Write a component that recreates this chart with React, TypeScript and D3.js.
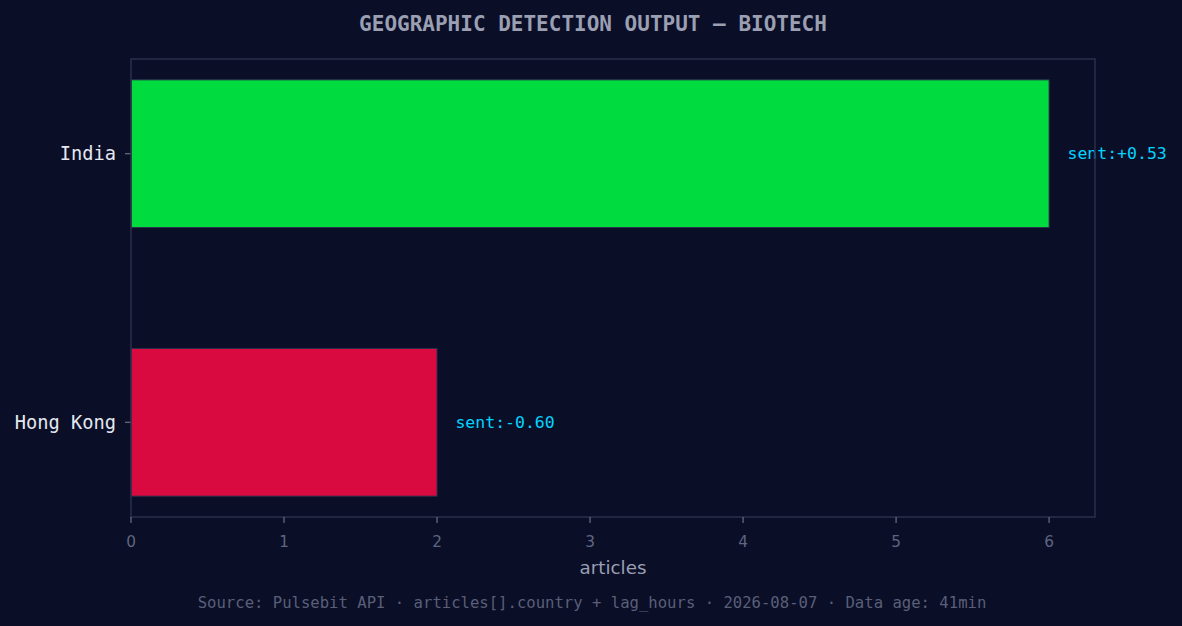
import React from "react";
import * as d3 from "d3";

const countries = ["Hong Kong", "India"];
const articles = [2, 6];
const sentiments = [-0.6, 0.53];
const barColors = ["#d80a3f", "#00dc40"];
const xTicks = [0, 1, 2, 3, 4, 5, 6];
const titleText = "GEOGRAPHIC DETECTION OUTPUT — BIOTECH";
const xLabel = "articles";
const footerText =
  "Source: Pulsebit API · articles[].country + lag_hours · 2026-08-07 · Data age: 41min";

const W = 1182;
const H = 626;
const M = { left: 131, right: 1095, top: 59, bottom: 517 };
const BG = "#0a0e27";
const SPINE = "#2a2f4c";
const MONO = "'DejaVu Sans Mono', monospace";
const SANS = "'DejaVu Sans', sans-serif";

export default function App() {
  const x = d3.scaleLinear().domain([0, 6.3]).range([M.left, M.right]);
  const barH = 0.55;
  const lo = -barH / 2;
  const hi = 1 + barH / 2;
  const pad = (hi - lo) * 0.05;
  const y = d3.scaleLinear().domain([lo - pad, hi + pad]).range([M.bottom, M.top]);
  const fmt = (v: number) => (v >= 0 ? "+" : "-") + Math.abs(v).toFixed(2);

  return (
    <svg
      width={W}
      height={H}
      style={{ position: "absolute", left: 0, top: 0, background: BG }}
    >
      <rect x={0} y={0} width={W} height={H} fill={BG} />
      <text
        x={593}
        y={31}
        textAnchor="middle"
        fill="#9a9fb2"
        fontFamily={MONO}
        fontWeight="bold"
        fontSize={21}
      >
        {titleText}
      </text>

      {countries.map((c, i) => {
        const y0 = y(i + barH / 2);
        const y1 = y(i - barH / 2);
        return (
          <g key={c}>
            <rect
              x={x(0)}
              y={y0}
              width={x(articles[i]) - x(0)}
              height={y1 - y0}
              fill={barColors[i]}
              stroke={SPINE}
              strokeWidth={1}
            />
            <text
              x={x(articles[i] + 0.12)}
              y={y(i)}
              dominantBaseline="central"
              fill="#00d4ff"
              fontFamily={MONO}
              fontSize={16.5}
            >
              {"sent:" + fmt(sentiments[i])}
            </text>
            <line x1={M.left - 6} x2={M.left} y1={y(i)} y2={y(i)} stroke="#6b7089" strokeWidth={1.2} />
            <text
              x={M.left - 15}
              y={y(i)}
              dominantBaseline="central"
              textAnchor="end"
              fill="#e4e7f0"
              fontFamily={MONO}
              fontSize={18.7}
            >
              {c}
            </text>
          </g>
        );
      })}

      <rect
        x={M.left}
        y={M.top}
        width={M.right - M.left}
        height={M.bottom - M.top}
        fill="none"
        stroke={SPINE}
        strokeWidth={1.5}
      />

      {xTicks.map((t) => (
        <g key={t}>
          <line x1={x(t)} x2={x(t)} y1={M.bottom} y2={M.bottom + 6} stroke="#6b7089" strokeWidth={1.2} />
          <text
            x={x(t)}
            y={547}
            textAnchor="middle"
            fill="#5f6580"
            fontFamily={SANS}
            fontSize={15.3}
          >
            {t}
          </text>
        </g>
      ))}

      <text
        x={(M.left + M.right) / 2}
        y={574}
        textAnchor="middle"
        fill="#9a9fb3"
        fontFamily={SANS}
        fontSize={18.3}
      >
        {xLabel}
      </text>

      <text
        x={592}
        y={608}
        textAnchor="middle"
        fill="#5a5f78"
        fontFamily={MONO}
        fontSize={15.6}
      >
        {footerText}
      </text>
    </svg>
  );
}
